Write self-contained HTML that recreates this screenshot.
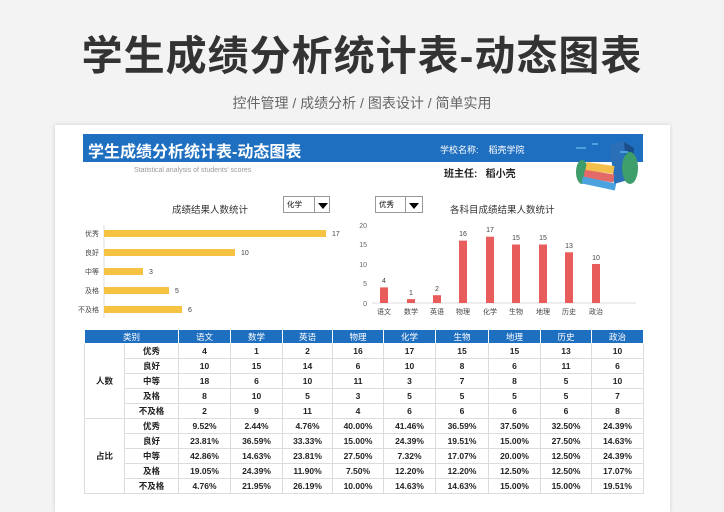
<!DOCTYPE html>
<html><head><meta charset="utf-8"><style>
*{margin:0;padding:0;box-sizing:border-box}
body{width:724px;height:512px;background:#f3f3f3;font-family:"Liberation Sans","Noto Sans CJK SC",sans-serif;position:relative;overflow:hidden}
.a{position:absolute;white-space:nowrap}
table{border-collapse:collapse;position:absolute;left:84px;top:329px;font-size:8.5px;font-weight:bold;color:#222}
td{border:1px solid #dcdcdc;text-align:center;height:15px;padding:0;background:#fff}
tr.h td{background:#1f6fc0;color:#fff;height:14px;border-color:#fff;font-weight:normal}
</style></head><body>
<div class="a" style="left:0;width:724px;top:22px;text-align:center;font-size:41px;font-weight:bold;color:#333;letter-spacing:1px">学生成绩分析统计表-动态图表</div>
<div class="a" style="left:0;width:724px;top:93px;text-align:center;font-size:14px;color:#666">控件管理 / 成绩分析 / 图表设计 / 简单实用</div>
<div class="a" style="left:55px;top:125px;width:615px;height:387px;background:#fff;box-shadow:0 0 4px rgba(0,0,0,.15)"></div>
<div class="a" style="left:83px;top:134px;width:560px;height:28px;background:#1f6fc0"></div>
<div class="a" style="left:88px;top:138px;font-size:16px;font-weight:bold;color:#fff">学生成绩分析统计表-动态图表</div>
<div class="a" style="left:440px;top:143px;font-size:9px;color:#fff">学校名称: &nbsp;&nbsp;&nbsp;稻壳学院</div>
<div class="a" style="left:134px;top:167px;font-size:7px;color:#999">Statistical analysis of students' scores</div>
<div class="a" style="left:444px;top:165px;font-size:10px;font-weight:bold;color:#222">班主任: &nbsp;&nbsp;稻小壳</div>
<svg class="a" style="left:570px;top:138px" width="72" height="58">
<path d="M40 8 l14 -6 l4 40 l-14 4z" fill="#2a6fb8"/><path d="M54 4 l10 6 l0 30 l-6 4z" fill="#1b4f8a"/>
<ellipse cx="60" cy="30" rx="8" ry="16" fill="#3d9d6b"/><ellipse cx="12" cy="34" rx="6" ry="12" fill="#3d9d6b"/>
<rect x="14" y="34" width="30" height="8" fill="#e46a6a" transform="rotate(10 29 38)"/>
<rect x="16" y="26" width="28" height="8" fill="#f3c04b" transform="rotate(8 30 30)"/>
<rect x="12" y="42" width="34" height="7" fill="#4aa3df" transform="rotate(12 29 45)"/>
<path d="M6 10h10M50 14h8M22 6h6" stroke="#4aa3df" stroke-width="2"/>
</svg>
<!-- left chart -->
<div class="a" style="left:172px;top:202px;font-size:9.5px;color:#333">成绩结果人数统计</div>
<div class="a" style="left:283px;top:196px;width:47px;height:17px;border:1px solid #999;background:#fff;font-size:7.5px;padding:2px 3px">化学</div>
<div class="a" style="left:314px;top:197px;width:1px;height:15px;background:#999"></div>
<div class="a" style="left:318px;top:203px;border-left:5px solid transparent;border-right:5px solid transparent;border-top:6px solid #000"></div>
<svg class="a" style="left:0;top:0" width="724" height="512" font-family="Liberation Sans,Noto Sans CJK SC,sans-serif" font-size="7" fill="#444">
<line x1="104" y1="225" x2="104" y2="318" stroke="#ddd"/>
<g fill="#f5c242">
<rect x="104" y="230" width="222" height="7"/><rect x="104" y="249" width="131" height="7"/><rect x="104" y="268" width="39" height="7"/><rect x="104" y="287" width="65" height="7"/><rect x="104" y="306" width="78" height="7"/></g>
<g text-anchor="end"><text x="99" y="236">优秀</text><text x="99" y="255">良好</text><text x="99" y="274">中等</text><text x="99" y="293">及格</text><text x="99" y="312">不及格</text></g>
<text x="332" y="236">17</text><text x="241" y="255">10</text><text x="149" y="274">3</text><text x="175" y="293">5</text><text x="188" y="312">6</text>
<g text-anchor="end" fill="#666"><text x="367" y="228">20</text><text x="367" y="247">15</text><text x="367" y="267">10</text><text x="367" y="286">5</text><text x="367" y="306">0</text></g>
<line x1="372" y1="303" x2="636" y2="303" stroke="#ddd"/>
<g fill="#e85c5c">
<rect x="380" y="287.4" width="8" height="15.6"/><rect x="407" y="299.1" width="8" height="3.9"/><rect x="433" y="295.2" width="8" height="7.8"/><rect x="459" y="240.6" width="8" height="62.4"/><rect x="486" y="236.7" width="8" height="66.3"/><rect x="512" y="244.5" width="8" height="58.5"/><rect x="539" y="244.5" width="8" height="58.5"/><rect x="565" y="252.3" width="8" height="50.7"/><rect x="592" y="264" width="8" height="39"/></g>
<g text-anchor="middle"><text x="384" y="283">4</text><text x="411" y="295">1</text><text x="437" y="291">2</text><text x="463" y="236">16</text><text x="490" y="232">17</text><text x="516" y="240">15</text><text x="543" y="240">15</text><text x="569" y="248">13</text><text x="596" y="260">10</text>
<text x="384" y="314">语文</text><text x="411" y="314">数学</text><text x="437" y="314">英语</text><text x="463" y="314">物理</text><text x="490" y="314">化学</text><text x="516" y="314">生物</text><text x="543" y="314">地理</text><text x="569" y="314">历史</text><text x="596" y="314">政治</text></g>
</svg>
<div class="a" style="left:375px;top:196px;width:48px;height:17px;border:1px solid #999;background:#fff;font-size:7.5px;padding:2px 3px">优秀</div>
<div class="a" style="left:405px;top:197px;width:1px;height:15px;background:#999"></div>
<div class="a" style="left:409px;top:203px;border-left:5px solid transparent;border-right:5px solid transparent;border-top:6px solid #000"></div>
<div class="a" style="left:450px;top:202px;font-size:9.5px;color:#333">各科目成绩结果人数统计</div>
<table>
<colgroup><col style="width:40px"><col style="width:54px"><col style="width:52px"><col style="width:52px"><col style="width:50px"><col style="width:51px"><col style="width:52px"><col style="width:53px"><col style="width:52px"><col style="width:51px"><col style="width:52px"></colgroup>
<tr class="h"><td colspan="2">类别</td><td>语文</td><td>数学</td><td>英语</td><td>物理</td><td>化学</td><td>生物</td><td>地理</td><td>历史</td><td>政治</td></tr>
<tr><td rowspan="5">人数</td><td>优秀</td><td>4</td><td>1</td><td>2</td><td>16</td><td>17</td><td>15</td><td>15</td><td>13</td><td>10</td></tr>
<tr><td>良好</td><td>10</td><td>15</td><td>14</td><td>6</td><td>10</td><td>8</td><td>6</td><td>11</td><td>6</td></tr>
<tr><td>中等</td><td>18</td><td>6</td><td>10</td><td>11</td><td>3</td><td>7</td><td>8</td><td>5</td><td>10</td></tr>
<tr><td>及格</td><td>8</td><td>10</td><td>5</td><td>3</td><td>5</td><td>5</td><td>5</td><td>5</td><td>7</td></tr>
<tr><td>不及格</td><td>2</td><td>9</td><td>11</td><td>4</td><td>6</td><td>6</td><td>6</td><td>6</td><td>8</td></tr>
<tr><td rowspan="5">占比</td><td>优秀</td><td>9.52%</td><td>2.44%</td><td>4.76%</td><td>40.00%</td><td>41.46%</td><td>36.59%</td><td>37.50%</td><td>32.50%</td><td>24.39%</td></tr>
<tr><td>良好</td><td>23.81%</td><td>36.59%</td><td>33.33%</td><td>15.00%</td><td>24.39%</td><td>19.51%</td><td>15.00%</td><td>27.50%</td><td>14.63%</td></tr>
<tr><td>中等</td><td>42.86%</td><td>14.63%</td><td>23.81%</td><td>27.50%</td><td>7.32%</td><td>17.07%</td><td>20.00%</td><td>12.50%</td><td>24.39%</td></tr>
<tr><td>及格</td><td>19.05%</td><td>24.39%</td><td>11.90%</td><td>7.50%</td><td>12.20%</td><td>12.20%</td><td>12.50%</td><td>12.50%</td><td>17.07%</td></tr>
<tr><td>不及格</td><td>4.76%</td><td>21.95%</td><td>26.19%</td><td>10.00%</td><td>14.63%</td><td>14.63%</td><td>15.00%</td><td>15.00%</td><td>19.51%</td></tr>
</table>
</body></html>
